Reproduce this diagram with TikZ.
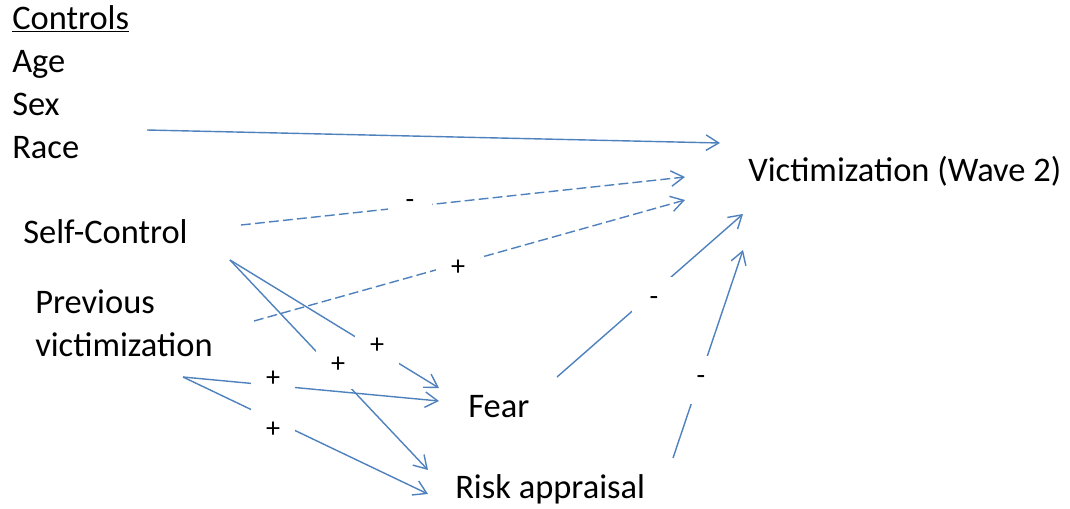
\documentclass[tikz,border=0pt]{standalone}
\usepackage{fontspec}
\setmainfont{Carlito}
\usetikzlibrary{arrows.meta}
\definecolor{linkblue}{RGB}{79,129,189}

\begin{document}
\begin{tikzpicture}
[x=0.025cm, y=-0.025cm,
   link/.style={line width=1pt, draw=linkblue},
   ->/.style={link, arrows={-Straight Barb[length=9pt,width=11pt]}},
   weak/.style={dash pattern=on 7pt off 3pt},
   var/.style={anchor=base west, inner sep=0pt, align=left, font=\fontsize{24.5}{30.5}\selectfont},
   sign/.style={fill=white, inner sep=0pt, minimum width=31pt, minimum height=34pt, font=\fontsize{20}{24}\selectfont}]
\useasboundingbox (0,0) rectangle (1070,508);
\node[var] (ctrl) at (12,29) {\underline{Controls}};
\node[var] (age) at (12,72) {Age};
\node[var] (sex) at (12,115) {Sex};
\node[var] (race) at (12,158) {Race};
\node[var] (vict) at (748,181) {Victimization (Wave 2)};
\node[var] (sc) at (23,243) {Self-Control};
\node[var] (pv) at (35,356) {Previous\\victimization};
\node[var] (fear) at (468,417) {Fear};
\node[var] (risk) at (455,498) {Risk appraisal};
\coordinate (raceE) at (147,130);
\coordinate (victW1) at (720,143);
\coordinate (scE) at (241,225);
\coordinate (victW2) at (685,177);
\coordinate (pvE) at (254,321);
\coordinate (victW3) at (685,200);
\coordinate (victS1) at (743,214);
\coordinate (victS2) at (743,250);
\coordinate (scSE) at (230,260);
\coordinate (pvSE) at (183,377);
\coordinate (fearW1) at (439,388);
\coordinate (fearW2) at (439,401);
\coordinate (fearE) at (557,377);
\coordinate (riskW1) at (428,470);
\coordinate (riskW2) at (428,494);
\coordinate (riskE) at (673,458);
\draw [->] (raceE) to (victW1);
\draw [->, weak] (scE) to (victW2);
\draw [->, weak] (pvE) to (victW3);
\draw [->] (scSE) to (fearW1);
\draw [->] (scSE) to (riskW1);
\draw [->] (pvSE) to (fearW2);
\draw [->] (pvSE) to (riskW2);
\draw [->] (fearE) to (victS1);
\draw [->] (riskE) to (victS2);
\node[sign] (sSC) at (410,204) {-};
\node[sign] (sPV) at (458,268) {+};
\node[sign] (sSCF) at (377,346) {+};
\node[sign] (sSCR) at (338,365) {+};
\node[sign] (sPVF) at (273,379) {+};
\node[sign] (sPVR) at (273,430) {+};
\node[sign] (sF) at (654,301) {-};
\node[sign] (sR) at (701,380) {-};
\end{tikzpicture}
\end{document}
